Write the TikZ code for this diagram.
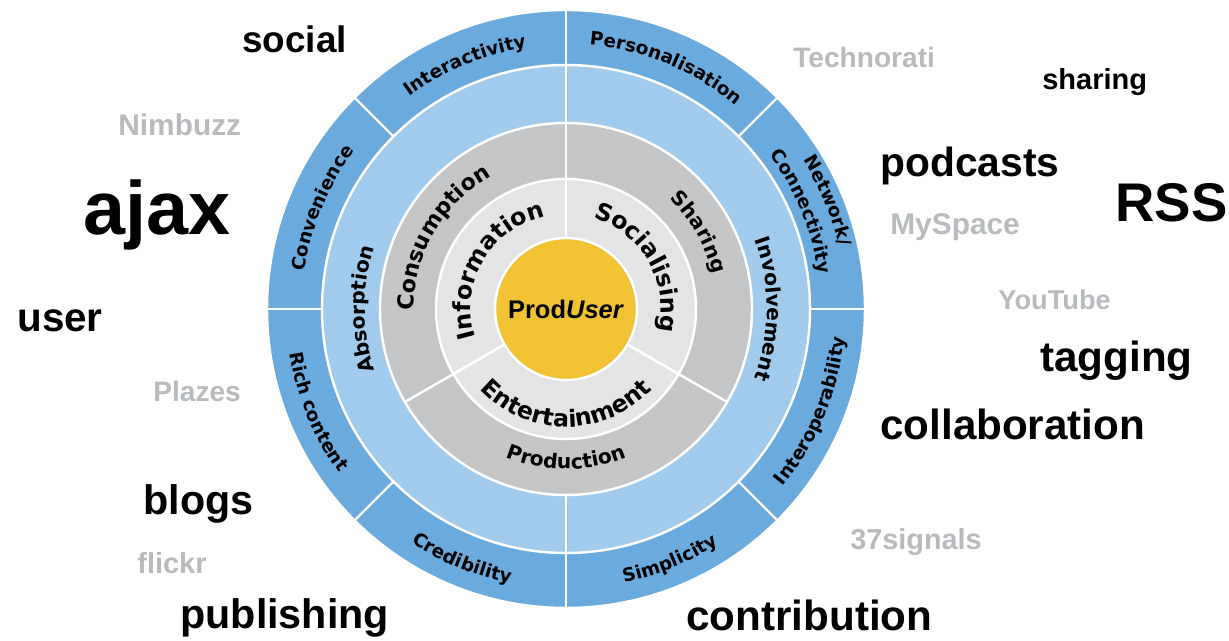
\documentclass[tikz,border=0pt]{standalone}
\usepackage{fontspec}
\setmainfont{Liberation Sans}
\newfontfamily\ringfont{DejaVu Sans}
\usetikzlibrary{decorations.text}
\definecolor{bandblue}{RGB}{106,170,221}
\definecolor{ringblue}{RGB}{160,203,236}
\definecolor{ringgray}{RGB}{196,197,199}
\definecolor{coregray}{RGB}{228,228,229}
\definecolor{coreyellow}{RGB}{240,194,52}
\definecolor{taggray}{RGB}{184,187,190}
\newcommand\ringOuter{\ringfont\bfseries\fontsize{10.5}{12}\selectfont}
\newcommand\ringMid{\ringfont\bfseries\fontsize{11.5}{13}\selectfont}
\newcommand\ringWide{\ringfont\bfseries\fontsize{12.5}{14}\selectfont}
\newcommand\ringInner{\ringfont\bfseries\fontsize{13.5}{15}\selectfont}

\begin{document}
\begin{tikzpicture}[
        x=0.02cm, y=0.02cm,
        sep/.style={white, line width=1.4pt},
        disc/.style={draw=white, line width=1.4pt},
        tag/.style={anchor=base west, inner sep=0pt, font=\bfseries\fontsize{#1}{#1}\selectfont},
        weak/.style={text=taggray},
        arclabel/.style={decorate, decoration={text along path, text align=center, text={#1}}}
    ]
    \useasboundingbox (-566,-332) rectangle (663,309);

    \filldraw[disc, fill=bandblue] (0,0) circle[radius=299];
    \filldraw[disc, fill=ringblue] (0,0) circle[radius=244];
    \filldraw[disc, fill=ringgray] (0,0) circle[radius=186];
    \filldraw[disc, fill=coregray] (0,0) circle[radius=130];
    \foreach \a in {0,45,...,315}
        \draw[sep] (\a:244) -- (\a:299);
    \draw[sep] (90:71) -- (90:244);
    \draw[sep] (270:186) -- (270:244);
    \foreach \a in {210,330}
        \draw[sep] (\a:71) -- (\a:186);
    \filldraw[disc, fill=coreyellow] (0,0) circle[radius=71];
    \node (produser) {\bfseries\fontsize{14.5}{16}\selectfont Prod\textit{User}};

    % outer band
    \path[arclabel={|\ringOuter|Personalisation}] (90:265) arc[start angle=90, end angle=45, radius=265];
    \path[arclabel={|\ringOuter|Interactivity}] (135:264) arc[start angle=135, end angle=90, radius=264];
    \path[arclabel={|\ringOuter|Convenience}] (180:264) arc[start angle=180, end angle=135, radius=264];
    \path[arclabel={|\ringOuter|Network/}] (45:280) arc[start angle=45, end angle=0, radius=280];
    \path[arclabel={|\ringOuter|Connectivity}] (45:255) arc[start angle=45, end angle=0, radius=255];
    \path[arclabel={|\ringOuter|Rich content}] (180:280) arc[start angle=180, end angle=225, radius=280];
    \path[arclabel={|\ringOuter|Credibility}] (225:280) arc[start angle=225, end angle=270, radius=280];
    \path[arclabel={|\ringOuter|Simplicity}] (270:280) arc[start angle=270, end angle=315, radius=280];
    \path[arclabel={|\ringOuter|Interoperability}] (315:280) arc[start angle=315, end angle=360, radius=280];

    % light blue ring
    \path[arclabel={|\ringMid|Absorption}] (270:201) arc[start angle=270, end angle=90, radius=201];
    \path[arclabel={|\ringMid|Involvement}] (90:201) arc[start angle=90, end angle=-90, radius=201];

    % gray ring
    \path[arclabel={|\ringWide|Consumption}] (210:152) arc[start angle=210, end angle=90, radius=152];
    \path[arclabel={|\ringMid|Sharing}] (90:151) arc[start angle=90, end angle=-30, radius=151];
    \path[arclabel={|\ringMid|Production}] (210:160) arc[start angle=210, end angle=330, radius=160];

    % inner ring
    \path[arclabel={|\ringInner|Information}] (210:95) arc[start angle=210, end angle=90, radius=95];
    \path[arclabel={|\ringInner|Socialising}] (90:95) arc[start angle=90, end angle=-30, radius=95];
    \path[arclabel={|\ringInner|Entertainment}] (210:118) arc[start angle=210, end angle=330, radius=118];

    % words around
    \node[tag=21] (social) at (-324,256) {social};
    \node[tag=17, weak] (nimbuzz) at (-448,173) {Nimbuzz};
    \node[tag=43] (ajax) at (-483,74) {ajax};
    \node[tag=23] (user) at (-549,-23) {user};
    \node[tag=16, weak] (plazes) at (-413,-93) {Plazes};
    \node[tag=23.5] (blogs) at (-423,-206) {blogs};
    \node[tag=16.5, weak] (flickr) at (-429,-264) {flickr};
    \node[tag=23.5] (publishing) at (-386,-319) {publishing};
    \node[tag=16, weak] (technorati) at (227,241) {Technorati};
    \node[tag=16.5] (sharing) at (476,219) {sharing};
    \node[tag=23.2] (podcasts) at (314,132) {podcasts};
    \node[tag=31] (rss) at (549,87) {RSS};
    \node[tag=17, weak] (myspace) at (324,74) {MySpace};
    \node[tag=15.5, weak] (youtube) at (432,-1) {YouTube};
    \node[tag=24] (tagging) at (474,-63) {tagging};
    \node[tag=24] (collaboration) at (314,-131) {collaboration};
    \node[tag=16.4, weak] (signals) at (284,-241) {37signals};
    \node[tag=24] (contribution) at (120,-321) {contribution};
\end{tikzpicture}
\end{document}
